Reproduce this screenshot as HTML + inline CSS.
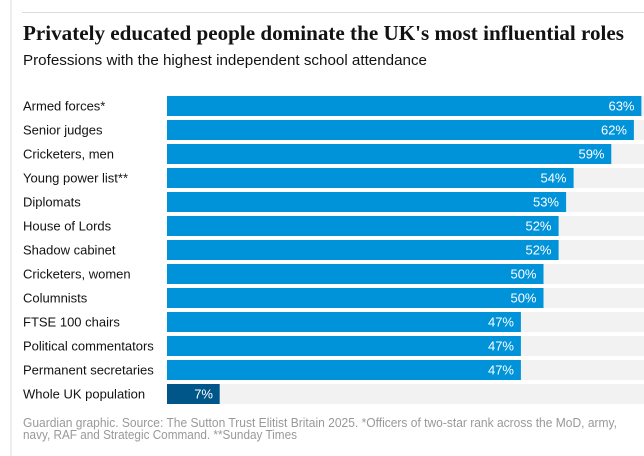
<!DOCTYPE html>
<html>
<head>
<meta charset="utf-8">
<style>
  html,body{margin:0;padding:0;background:#fff;}
  svg{display:block;}
  .lab{font-family:"Liberation Sans",sans-serif;font-size:13px;fill:#121212;}
  .val{font-family:"Liberation Sans",sans-serif;font-size:13px;fill:#fff;text-anchor:end;}
</style>
</head>
<body>
<svg width="644" height="456" viewBox="0 0 644 456" xmlns="http://www.w3.org/2000/svg">
  <rect x="0" y="0" width="644" height="456" fill="#fff"/>
  <line x1="11" y1="0" x2="11" y2="456" stroke="#dcdcdc" stroke-width="1"/>
  <line x1="22" y1="12.5" x2="644" y2="12.5" stroke="#dcdcdc" stroke-width="1"/>

  <text x="23" y="40" font-family="Liberation Serif, serif" font-weight="bold" font-size="21" fill="#121212" textLength="601" lengthAdjust="spacingAndGlyphs">Privately educated people dominate the UK's most influential roles</text>
  <text x="23" y="65" font-family="Liberation Sans, sans-serif" font-size="15" fill="#121212" textLength="404" lengthAdjust="spacingAndGlyphs">Professions with the highest independent school attendance</text>

  <!-- tracks -->
  <g fill="#f2f2f2">
    <rect x="167" y="96" width="477" height="20"/>
    <rect x="167" y="120" width="477" height="20"/>
    <rect x="167" y="144" width="477" height="20"/>
    <rect x="167" y="168" width="477" height="20"/>
    <rect x="167" y="192" width="477" height="20"/>
    <rect x="167" y="216" width="477" height="20"/>
    <rect x="167" y="240" width="477" height="20"/>
    <rect x="167" y="264" width="477" height="20"/>
    <rect x="167" y="288" width="477" height="20"/>
    <rect x="167" y="312" width="477" height="20"/>
    <rect x="167" y="336" width="477" height="20"/>
    <rect x="167" y="360" width="477" height="20"/>
    <rect x="167" y="384" width="477" height="20"/>
  </g>

  <!-- bars -->
  <g fill="#0093da">
    <rect x="167" y="96" width="474.4" height="20"/>
    <rect x="167" y="120" width="466.9" height="20"/>
    <rect x="167" y="144" width="444.3" height="20"/>
    <rect x="167" y="168" width="406.6" height="20"/>
    <rect x="167" y="192" width="399.1" height="20"/>
    <rect x="167" y="216" width="391.6" height="20"/>
    <rect x="167" y="240" width="391.6" height="20"/>
    <rect x="167" y="264" width="376.5" height="20"/>
    <rect x="167" y="288" width="376.5" height="20"/>
    <rect x="167" y="312" width="353.9" height="20"/>
    <rect x="167" y="336" width="353.9" height="20"/>
    <rect x="167" y="360" width="353.9" height="20"/>
  </g>
  <rect x="167" y="384" width="52.7" height="20" fill="#005689"/>

  <!-- labels -->
  <text class="lab" x="23" y="110.5">Armed forces*</text>
  <text class="lab" x="23" y="134.5">Senior judges</text>
  <text class="lab" x="23" y="158.5">Cricketers, men</text>
  <text class="lab" x="23" y="182.5">Young power list**</text>
  <text class="lab" x="23" y="206.5">Diplomats</text>
  <text class="lab" x="23" y="230.5">House of Lords</text>
  <text class="lab" x="23" y="254.5">Shadow cabinet</text>
  <text class="lab" x="23" y="278.5">Cricketers, women</text>
  <text class="lab" x="23" y="302.5">Columnists</text>
  <text class="lab" x="23" y="326.5">FTSE 100 chairs</text>
  <text class="lab" x="23" y="350.5">Political commentators</text>
  <text class="lab" x="23" y="374.5">Permanent secretaries</text>
  <text class="lab" x="23" y="398.5">Whole UK population</text>

  <!-- values -->
  <text class="val" x="634.5" y="110.5">63%</text>
  <text class="val" x="627" y="134.5">62%</text>
  <text class="val" x="604.5" y="158.5">59%</text>
  <text class="val" x="566.5" y="182.5">54%</text>
  <text class="val" x="559" y="206.5">53%</text>
  <text class="val" x="551.5" y="230.5">52%</text>
  <text class="val" x="551.5" y="254.5">52%</text>
  <text class="val" x="536.5" y="278.5">50%</text>
  <text class="val" x="536.5" y="302.5">50%</text>
  <text class="val" x="514" y="326.5">47%</text>
  <text class="val" x="514" y="350.5">47%</text>
  <text class="val" x="514" y="374.5">47%</text>
  <text class="val" x="213" y="398.5">7%</text>

  <!-- footer -->
  <text x="23" y="427" font-family="Liberation Sans, sans-serif" font-size="12.5" fill="#999" textLength="594" lengthAdjust="spacingAndGlyphs">Guardian graphic. Source: The Sutton Trust Elitist Britain 2025. *Officers of two-star rank across the MoD, army,</text>
  <text x="23" y="439" font-family="Liberation Sans, sans-serif" font-size="12.5" fill="#999" textLength="274" lengthAdjust="spacingAndGlyphs">navy, RAF and Strategic Command. **Sunday Times</text>
</svg>
</body>
</html>
